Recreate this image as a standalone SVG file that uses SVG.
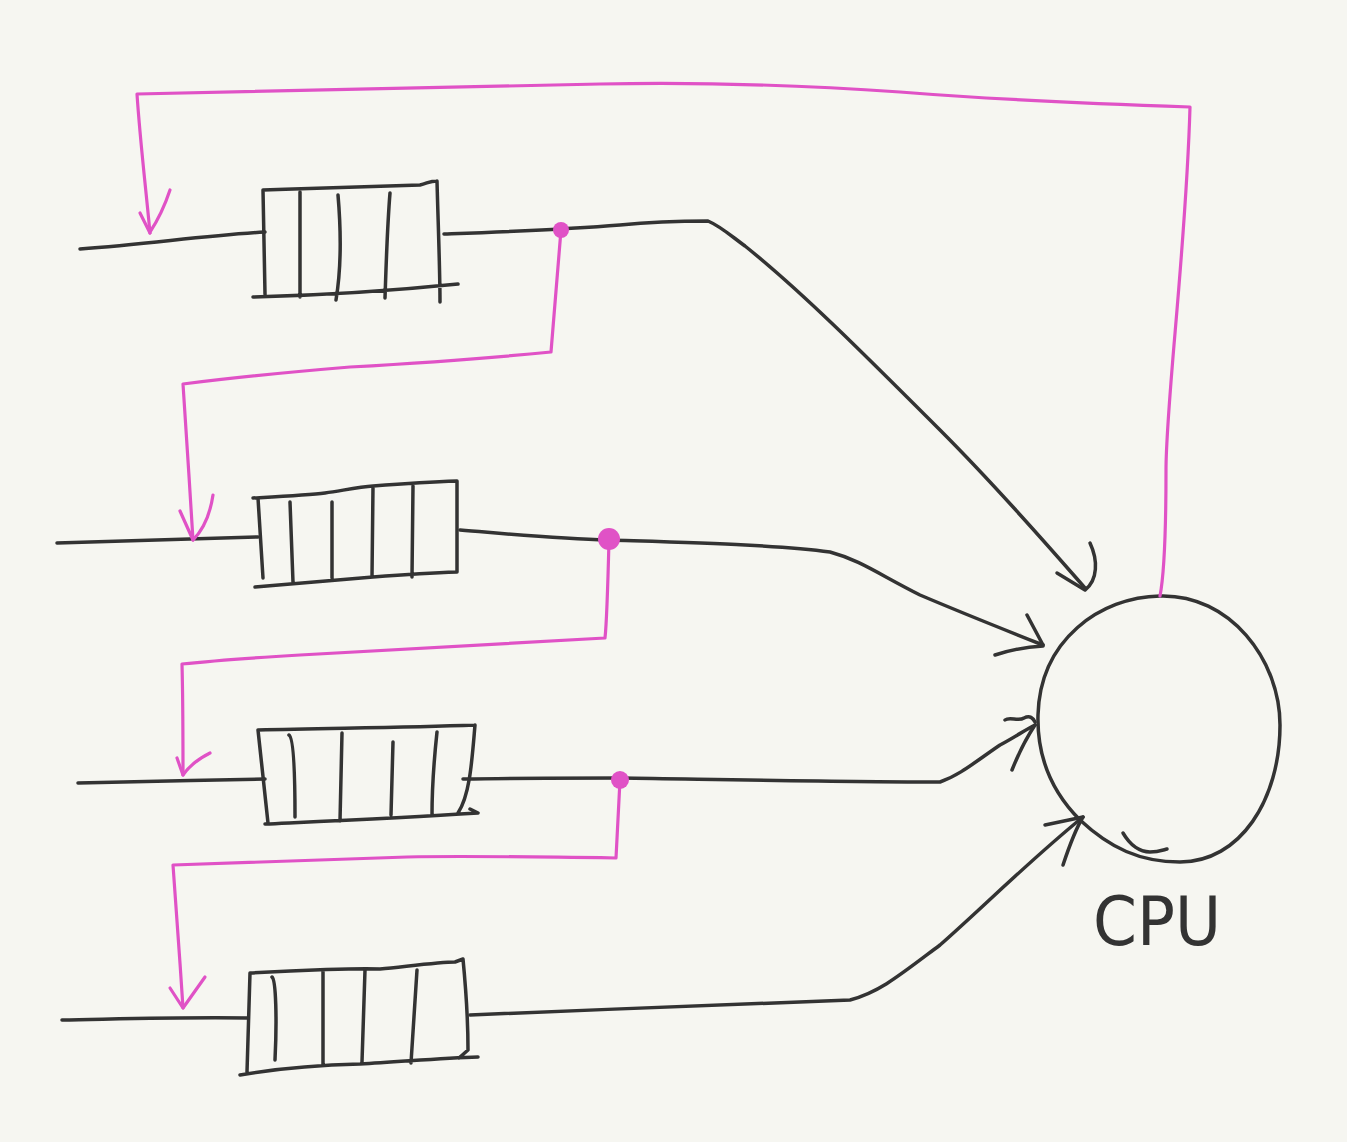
<svg xmlns="http://www.w3.org/2000/svg" width="1347" height="1142" viewBox="0 0 1347 1142">
<style>
.k{fill:none;stroke:#333;stroke-width:3.5;stroke-linecap:round;stroke-linejoin:round}
.p{fill:none;stroke:#e052c6;stroke-width:3.2;stroke-linecap:round;stroke-linejoin:round}
.d{fill:#e052c6}
.t{font-family:"DejaVu Sans","Liberation Sans",sans-serif;font-size:68px;fill:#333}
</style>
<rect width="1347" height="1142" fill="#f6f6f1"/>
<g id="queue1">
<path class="k" d="M263,190 C320,188 380,186 420,185 C428,183 430,181 437,181 M263,190 L265,294 M253,297 C330,295 400,290 458,284 M437,181 C438,220 440,270 440,302 M300,192 L300,297 M338,195 C341,230 341,270 336,300 M390,193 C387,230 386,270 385,298"/>
</g>
<g id="queue2">
<path class="k" d="M253,498 C290,496 310,495 325,493 C345,490 360,487 373,486 C400,484 430,482 457,481 M258,498 C260,530 262,560 263,578 M255,587 C300,583 340,580 373,577 C400,575 430,573 457,572 M457,481 L457,572 M290,502 L293,582 M332,502 L332,578 M373,487 L372,577 M413,486 L412,577"/>
</g>
<g id="queue3">
<path class="k" d="M258,730 C330,728 400,728 475,725 M258,730 L268,823 M265,824 C330,821 400,818 478,813 M470,809 L478,813 M475,725 C472,760 470,795 458,813 M289,735 C294,738 295,780 295,817 M342,733 L340,821 M393,742 L391,815 M437,732 C434,760 432,790 432,815"/>
</g>
<g id="queue4">
<path class="k" d="M250,973 C300,970 360,968 380,969 C410,966 440,962 455,962 L463,959 M250,973 L247,1072 M240,1075 C280,1068 320,1065 360,1064 C400,1062 440,1058 478,1057 M463,959 C466,990 468,1030 468,1050 L459,1058 M272,977 C276,980 277,1020 275,1060 M323,970 L323,1065 M365,970 L362,1062 M417,970 L411,1063"/>
</g>
<g id="cpu">
<path class="k" d="M1160,596 C1230,594 1280,660 1280,725 C1280,800 1240,862 1180,862 C1140,862 1110,848 1080,820 C1050,790 1037,755 1038,715 C1040,640 1100,597 1160,596 Z"/>
<path class="k" d="M1123,833 C1130,845 1140,852 1150,852 C1158,852 1163,850 1167,849"/>
<text class="t" x="1093" y="945" textLength="128" lengthAdjust="spacingAndGlyphs">CPU</text>
</g>
<g id="connectors">
<path class="k" d="M80,249 C150,244 200,236 265,232"/>
<path class="k" d="M444,234 C500,232 560,230 620,225 C650,222 690,221 708,221 C720,226 730,235 745,246 C800,290 860,350 940,430 C1000,490 1050,548 1085,588"/>
<path class="k" d="M1057,573 L1085,590 M1090,543 C1098,560 1098,580 1085,590"/>
<path class="k" d="M57,543 L258,537"/>
<path class="k" d="M460,530 C520,535 560,539 608,540 C700,543 780,545 830,552 C860,560 880,575 920,595 C960,612 1000,628 1043,645"/>
<path class="k" d="M1027,615 L1043,645 M995,655 C1010,650 1025,647 1043,646"/>
<path class="k" d="M78,783 C150,782 200,780 265,779"/>
<path class="k" d="M463,779 C520,778 560,778 620,778 C750,780 850,782 940,782 C960,775 975,762 1000,745 C1015,737 1025,730 1035,725"/>
<path class="k" d="M1005,720 C1010,716 1018,722 1024,718 C1030,715 1033,718 1035,722 M1012,770 C1018,755 1025,740 1035,725"/>
<path class="k" d="M62,1020 C120,1019 180,1017 248,1018"/>
<path class="k" d="M470,1015 C600,1010 700,1005 850,1000 C880,992 900,975 940,945 C980,910 1030,860 1083,817"/>
<path class="k" d="M1045,825 L1083,817 M1063,865 C1068,850 1075,830 1083,817"/>
<path class="p" d="M1160,596 C1165,570 1166,520 1166,470 C1166,400 1186,250 1190,107 C1100,104 1000,100 900,92 C800,85 700,82 600,84 C450,87 300,90 137,94 C140,140 146,190 150,233"/>
<path class="p" d="M140,213 L150,233 M170,190 C165,205 158,220 150,232" stroke-width="4"/>
<path class="p" d="M561,230 L551,352 C500,357 420,363 350,367 C290,372 230,378 183,384 C186,430 190,490 193,540"/>
<path class="p" d="M180,511 L193,540 M213,495 C210,515 203,530 193,540" stroke-width="4"/>
<path class="p" d="M609,540 C608,580 607,620 605,638 C500,643 400,650 300,655 C250,658 210,661 182,664 C183,700 183,740 183,775"/>
<path class="p" d="M177,758 L183,775 M210,753 C200,758 190,765 183,775" stroke-width="4"/>
<path class="p" d="M620,780 L616,858 C550,857 450,856 407,857 C320,860 240,862 173,865 C176,910 180,960 183,1008"/>
<path class="p" d="M170,988 L183,1008 M205,977 C198,987 190,998 183,1008" stroke-width="4"/>
<circle class="d" cx="561" cy="230" r="8"/>
<circle class="d" cx="609" cy="539" r="11"/>
<circle class="d" cx="620" cy="780" r="9"/>
</g>
</svg>
